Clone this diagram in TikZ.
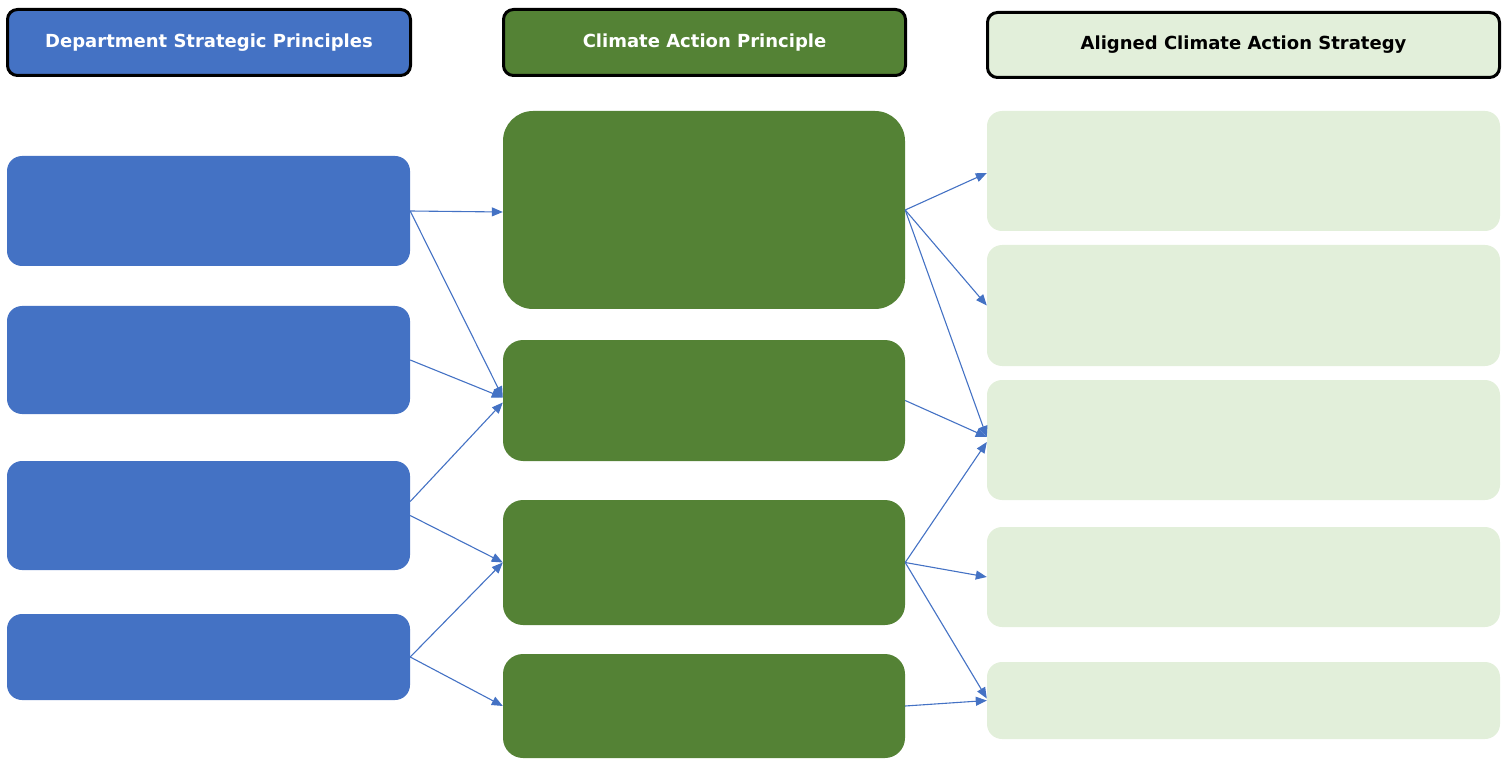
\documentclass[tikz,border=0pt]{standalone}
\usepackage{fontspec}
\setmainfont{DejaVu Sans}
\usetikzlibrary{arrows.meta,calc}
\definecolor{cblue}{HTML}{4472C4}
\definecolor{cgreen}{HTML}{548235}
\definecolor{clight}{HTML}{E2EFDA}
\tikzset{
  hdr/.style={draw=black, line width=3pt, rounded corners=10pt, inner sep=0pt, font=\bfseries\fontsize{18}{21}\selectfont},
  bbox/.style={fill=cblue, rounded corners=15pt, inner sep=0pt, minimum width=403pt},
  gbox/.style={fill=cgreen, rounded corners=20pt, inner sep=0pt, minimum width=402pt},
  lbox/.style={fill=clight, rounded corners=15pt, inner sep=0pt, minimum width=513pt},
  conn/.style={draw=cblue, line width=1.1pt, -{Triangle[length=11pt,width=9pt]}}
}
\begin{document}
\begin{tikzpicture}[x=1pt,y=-1pt]
\useasboundingbox (0,0) rectangle (1507,759);
% headers
\node[hdr, fill=cblue, text=white, minimum width=403pt, minimum height=66pt] (h1) at (209,42.5) {Department Strategic Principles};
\node[hdr, fill=cgreen, text=white, minimum width=402pt, minimum height=66pt] (h2) at (704.5,42.5) {Climate Action Principle};
\node[hdr, fill=clight, text=black, minimum width=512pt, minimum height=65pt] (h3) at (1243.5,45) {Aligned Climate Action Strategy};
% left column
\node[bbox, minimum height=110pt] (b1) at (208.5,211) {};
\node[bbox, minimum height=108pt] (b2) at (208.5,360) {};
\node[bbox, minimum height=109pt] (b3) at (208.5,515.5) {};
\node[bbox, minimum height=86pt] (b4) at (208.5,657) {};
% middle column
\node[gbox, rounded corners=30pt, minimum height=198pt] (g1) at (704,210) {};
\node[gbox, minimum height=121pt] (g2) at (704,400.5) {};
\node[gbox, minimum height=125pt] (g3) at (704,562.5) {};
\node[gbox, minimum height=104pt] (g4) at (704,706) {};
% right column
\node[lbox, minimum height=120pt] (l1) at (1243.5,171) {};
\node[lbox, minimum height=121pt] (l2) at (1243.5,305.5) {};
\node[lbox, minimum height=120pt] (l3) at (1243.5,440) {};
\node[lbox, minimum height=100pt] (l4) at (1243.5,577) {};
\node[lbox, minimum height=77pt] (l5) at (1243.5,700.5) {};
% connectors left -> middle
\draw[conn] (b1.east) -- ($(g1.west)+(0,2)$);
\draw[conn] (b1.east) -- ($(g2.west)+(0,-3)$);
\draw[conn] (b2.east) -- ($(g2.west)+(0,-3)$);
\draw[conn] ($(b3.east)+(0,-14)$) -- ($(g2.west)+(0,2)$);
\draw[conn] (b3.east) -- (g3.west);
\draw[conn] (b4.east) -- (g3.west);
\draw[conn] (b4.east) -- (g4.west);
% connectors middle -> right
\draw[conn] (g1.east) -- ($(l1.west)+(0,2)$);
\draw[conn] (g1.east) -- (l2.west);
\draw[conn] (g1.east) -- ($(l3.west)+(0,-3)$);
\draw[conn] (g2.east) -- ($(l3.west)+(0,-3)$);
\draw[conn] (g3.east) -- ($(l3.west)+(0,2)$);
\draw[conn] (g3.east) -- (l4.west);
\draw[conn] (g3.east) -- ($(l5.west)+(0,-2)$);
\draw[conn] (g4.east) -- (l5.west);
\end{tikzpicture}
\end{document}
